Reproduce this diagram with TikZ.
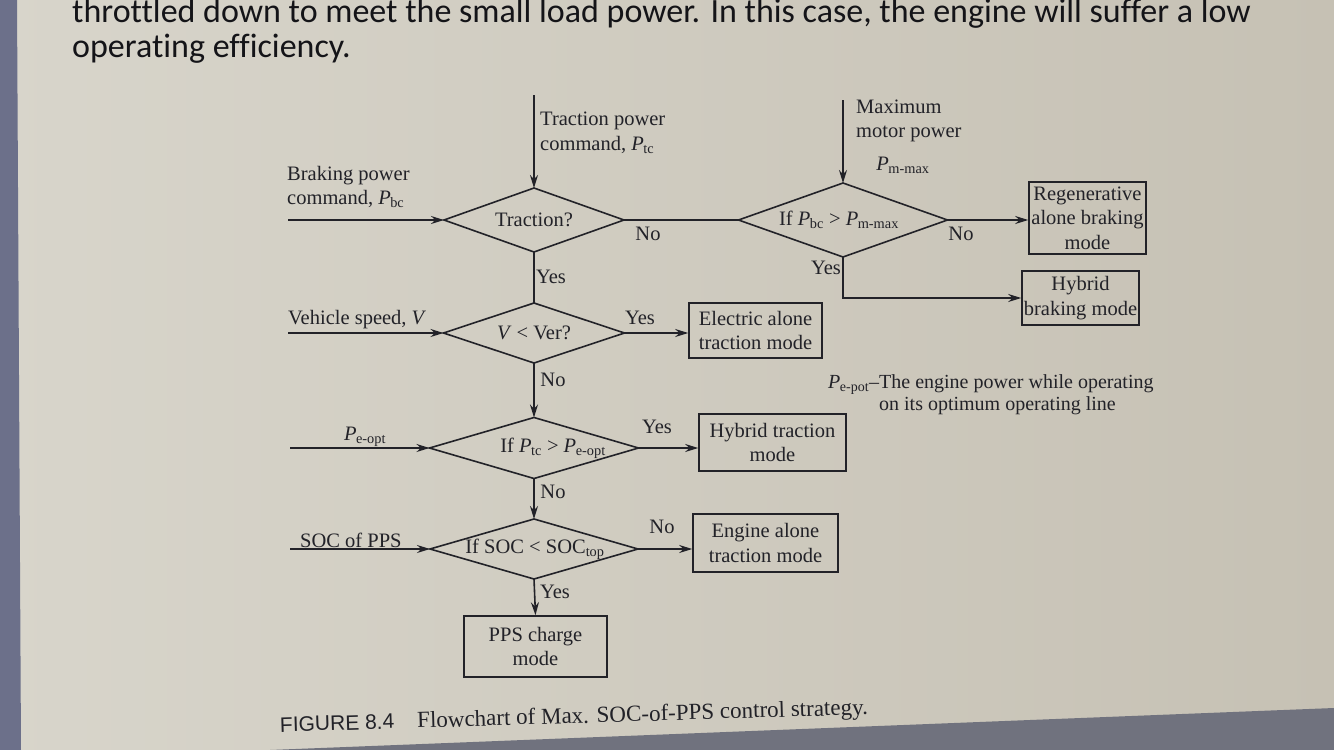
\documentclass[tikz,border=0pt]{standalone}
\usepackage{fontspec}
\setmainfont{Liberation Serif}
\newfontfamily\calib[Ligatures=CommonOff]{Carlito}
\newfontfamily\capsans{Liberation Sans}
\usetikzlibrary{shapes.geometric,arrows.meta}
\definecolor{inkc}{RGB}{34,34,40}
\definecolor{topc}{RGB}{20,20,24}
\definecolor{pgA}{RGB}{216,213,203}
\definecolor{pgB}{RGB}{198,193,180}
\definecolor{stripc}{RGB}{108,112,138}
\definecolor{bandc}{RGB}{112,114,126}
\newcommand{\dgfont}{\fontsize{20.5}{24.5}\selectfont}
\newcommand{\Psub}[1]{\textit{P}\kern-0.5pt\textsubscript{#1}}
\tikzset{
  ink/.style={draw=inkc, line width=1.6pt},
  dia/.style={diamond, ink, inner sep=0pt, outer sep=0pt, font=\dgfont, text=inkc},
  modebox/.style={rectangle, ink, inner sep=0pt, align=center, font=\dgfont, text=inkc},
  lbl/.style={inner sep=0pt, font=\dgfont, text=inkc},
  arr/.style={ink, -{Stealth[length=13pt,width=8pt]}},
  ln/.style={ink},
  toptext/.style={inner sep=0pt, anchor=base west, font=\calib\fontsize{34}{30}\selectfont, text=topc},
}
\begin{document}
\begin{tikzpicture}[x=1pt,y=-1pt]
\useasboundingbox (0,0) rectangle (1334,750);
% page background
\fill[left color=pgA, right color=pgB] (0,0) rectangle (1334,750);
\fill[stripc] (0,0) -- (17,0) -- (21,750) -- (0,750) -- cycle;
\fill[bandc] (270,750) -- (1334,708) -- (1334,750) -- cycle;

% text above the figure
\node[toptext] (t1) at (72,22)
  {throttled down to meet the small load power. In this case, the engine will suffer a low};
\node[toptext] (t2) at (72,57)
  {operating efficiency.};

% decisions
\node[dia, minimum width=180pt, minimum height=64pt] (d1) at (534,220) {\makebox[0pt]{Traction?}};
\node[dia, minimum width=209pt, minimum height=74pt] (d2) at (843,220) {\makebox[0pt]{\hspace*{-8pt}If \Psub{bc} > \Psub{m-max}}};
\node[dia, minimum width=181pt, minimum height=60pt] (d3) at (534,333) {\makebox[0pt]{\textit{V} < Ver?}};
\node[dia, minimum width=209pt, minimum height=61pt] (d4) at (534,448) {\makebox[0pt]{\hspace*{38pt}If \Psub{tc} > \Psub{e-opt}}};
\node[dia, minimum width=208pt, minimum height=60pt] (d5) at (534,549) {\makebox[0pt]{\hspace*{2pt}If SOC < SOC\textsubscript{top}}};

% modes
\node[modebox, minimum width=117pt, minimum height=72pt] (regen) at (1087.5,218) {Regenerative\\alone braking\\mode};
\node[modebox, minimum width=117pt, minimum height=54pt] (hybrk) at (1080.5,298) {Hybrid\\braking mode};
\node[modebox, minimum width=133pt, minimum height=55pt] (elec) at (755.5,330.5) {Electric alone\\traction mode};
\node[modebox, minimum width=147pt, minimum height=57pt] (hytr) at (772.5,442.5) {Hybrid traction\\mode};
\node[modebox, minimum width=145pt, minimum height=58pt] (eng) at (765.5,543) {Engine alone\\traction mode};
\node[modebox, minimum width=143pt, minimum height=61pt] (pps) at (535.5,646.5) {PPS charge\\mode};

% inputs
\coordinate (inB) at (288,220);
\coordinate (inT) at (534,95);
\coordinate (inM) at (843,100);
\coordinate (inV) at (288,333);
\coordinate (inP) at (290,448);
\coordinate (inS) at (290,549);

\node[lbl, anchor=west, align=left] (lB) at (287,187) {Braking power\\command, \Psub{bc}};
\node[lbl, anchor=west, align=left] (lT) at (540,133) {Traction power\\command, \Psub{tc}};
\node[lbl, anchor=west, align=left] (lM) at (856,121) {Maximum\\motor power};
\node[lbl] (lMP) at (903,165) {\Psub{m-max}};
\node[lbl, anchor=west] (lV) at (288,320) {Vehicle speed, \textit{V}};
\node[lbl] (lP) at (365,437) {\Psub{e-opt}};
\node[lbl, anchor=west] (lS) at (300,540) {SOC of PPS};

% connectors
\draw[arr] (inB) -- (d1.west);
\draw[arr] (inT) -- (d1.north);
\draw[arr] (inM) -- (d2.north);
\draw[ln]  (d1.east) -- (d2.west);
\draw[arr] (d2.east) -- (d2.east -| regen.west);
\draw[arr] (d2.south) |- (hybrk.west);
\draw[ln]  (d1.south) -- (d3.north);
\draw[arr] (inV) -- (d3.west);
\draw[arr] (d3.east) -- (d3.east -| elec.west);
\draw[arr] (d3.south) -- (d4.north);
\draw[arr] (inP) -- (d4.west);
\draw[arr] (d4.east) -- (d4.east -| hytr.west);
\draw[arr] (d4.south) -- (d5.north);
\draw[arr] (inS) -- (d5.west);
\draw[arr] (d5.east) -- (d5.east -| eng.west);
\draw[arr] (d5.south) -- (pps.north);

% branch labels
\node[lbl] (n1) at (648,234) {No};
\node[lbl] (y1) at (551,277) {Yes};
\node[lbl] (n2) at (961,234) {No};
\node[lbl] (y2) at (826,268) {Yes};
\node[lbl] (y3) at (640,318) {Yes};
\node[lbl] (n3) at (553,380) {No};
\node[lbl] (y4) at (657,427) {Yes};
\node[lbl] (n4) at (553,492) {No};
\node[lbl] (n5) at (662,527) {No};
\node[lbl] (y5) at (555,592) {Yes};

% note
\node[lbl, anchor=west, font=\fontsize{20}{22.5}\selectfont] (note) at (828,395)
  {\begin{tabular}{@{}r@{}l@{}}\Psub{e-pot}--&The engine power while operating\\ &on its optimum operating line\end{tabular}};

% caption
\node[inner sep=0pt, anchor=base west, rotate=1.7, text=inkc, font=\fontsize{23}{26}\selectfont] (cap) at (280,732)
  {{\capsans\fontsize{21}{24}\selectfont FIGURE 8.4}\hspace{23pt}Flowchart of Max. SOC-of-PPS control strategy.};
\end{tikzpicture}
\end{document}
